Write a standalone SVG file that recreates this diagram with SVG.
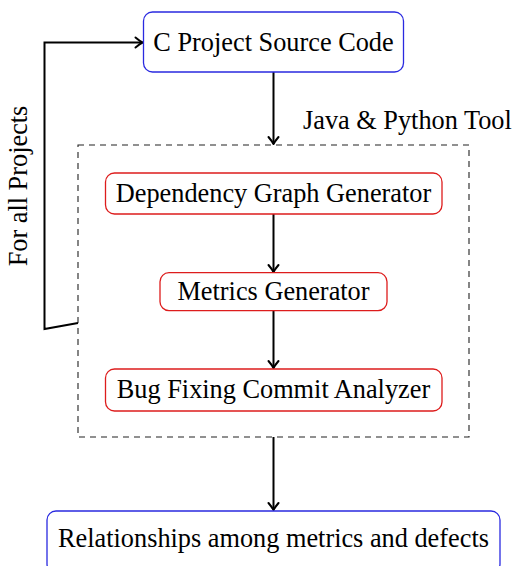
<svg xmlns="http://www.w3.org/2000/svg" width="516" height="566" viewBox="0 0 516 566">
<style>
text{font-family:"Liberation Serif","Times New Roman",serif;font-size:26.3px;fill:#000}
.c{text-anchor:middle}
.blue{fill:#fff;stroke:#2a2ae0;stroke-width:1.3}
.red{fill:#fff;stroke:#dd1c1c;stroke-width:1.3}
.edge{fill:none;stroke:#000;stroke-width:2;marker-end:url(#arr)}
</style>
<defs>
<marker id="arr" markerUnits="userSpaceOnUse" markerWidth="14" markerHeight="14" viewBox="-10 -7 12 14" refX="0" refY="0" orient="auto">
<path d="M-7,-5 Q-2.5,-1.2 0,0 Q-2.5,1.2 -7,5" fill="none" stroke="#000" stroke-width="2" stroke-linecap="round" stroke-linejoin="round"/>
</marker>
</defs>
<g id="tool-group">
<rect x="78" y="145" width="391" height="292" fill="none" stroke="#222" stroke-width="1.1" stroke-dasharray="6,5"/>
<text x="303" y="129">Java &amp; Python Tool</text>
</g>
<g id="connectors">
<line class="edge" x1="273.5" y1="72" x2="273.5" y2="144"/>
<line class="edge" x1="273.5" y1="214" x2="273.5" y2="272"/>
<line class="edge" x1="273.5" y1="311" x2="273.5" y2="368"/>
<line class="edge" x1="273.5" y1="437" x2="273.5" y2="510"/>
<polyline class="edge" points="78,323 44.5,329 44.5,42.5 142.5,42.5"/>
</g>
<g id="loop-label">
<text transform="translate(27,186) rotate(-90)" class="c">For all Projects</text>
</g>
<g id="source">
<rect class="blue" x="143.5" y="12" width="260" height="60" rx="9"/>
<text class="c" x="273.5" y="51">C Project Source Code</text>
</g>
<g id="dep">
<rect class="red" x="105.5" y="173" width="336.5" height="41" rx="9"/>
<text class="c" x="273.5" y="202">Dependency Graph Generator</text>
</g>
<g id="metrics">
<rect class="red" x="160" y="272.7" width="227" height="38" rx="9"/>
<text class="c" x="273.5" y="300">Metrics Generator</text>
</g>
<g id="bug">
<rect class="red" x="105.5" y="369" width="336.5" height="42" rx="9"/>
<text class="c" x="273.5" y="398">Bug Fixing Commit Analyzer</text>
</g>
<g id="relationships">
<rect class="blue" x="47" y="511" width="453" height="62" rx="9"/>
<text class="c" x="273.5" y="547">Relationships among metrics and defects</text>
</g>
</svg>
